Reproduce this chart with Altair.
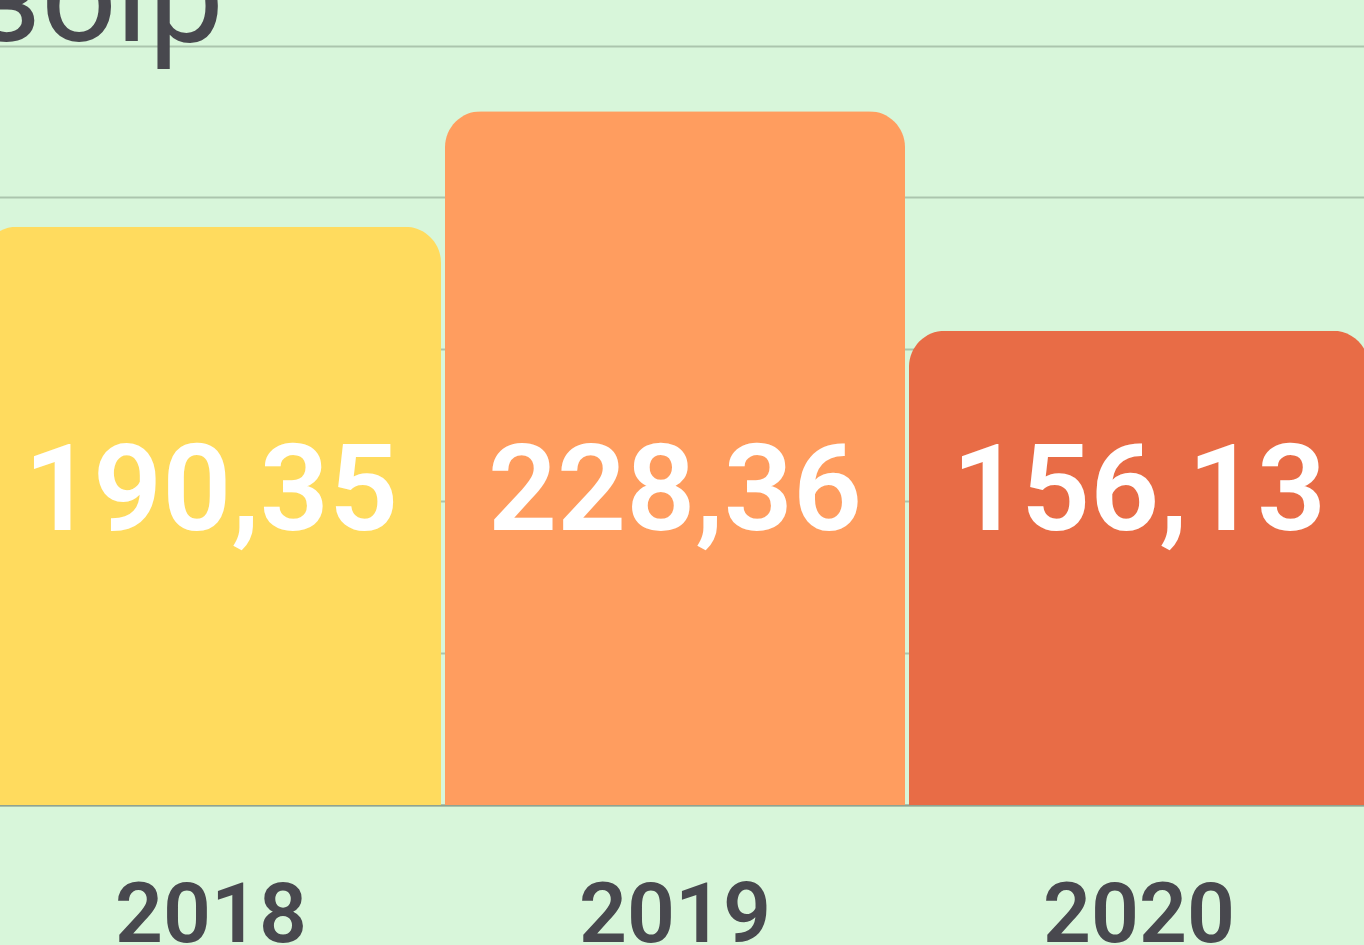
import altair as alt
import pandas as pd

# ---- data ----
years = ["2018", "2019", "2020"]
values = [190.35, 228.36, 156.13]
bar_colors = ["#ffdb5e", "#ff9d5f", "#e86c46"]
title_text = ["збір"]
grid_values = [0, 50, 100, 150, 200, 250]

labels = [f"{v:.2f}".replace(".", ",") for v in values]
df = pd.DataFrame({"year": years, "value": values, "label": labels, "color": bar_colors})
tdf = pd.DataFrame({"t": title_text})

BG = "#d8f6da"
TEXT = "#48484e"

x_enc = alt.X(
    "year:N",
    sort=years,
    scale=alt.Scale(range=[-19, 1369], paddingInner=0.0086, paddingOuter=0),
    axis=alt.Axis(
        title=None, labelAngle=0, ticks=False, tickSize=0,
        domain=True, domainColor="#8fa391", domainWidth=2,
        labelFont="Roboto", labelFontSize=84, labelFontWeight=600,
        labelColor=TEXT, labelPadding=136, labelBaseline="alphabetic",
        labelLimit=0, labelOverlap=False, grid=False,
    ),
)
y_enc = alt.Y(
    "value:Q",
    scale=alt.Scale(domain=[0, 265], nice=False),
    axis=alt.Axis(
        title=None, values=grid_values, labels=False, ticks=False,
        domain=False, grid=True, gridColor="#abc5ad", gridWidth=2,
    ),
)

bars = alt.Chart(df).mark_bar(
    cornerRadiusTopLeft=36, cornerRadiusTopRight=36
).encode(
    x=x_enc, y=y_enc, color=alt.Color("color:N", scale=None)
)

vals = alt.Chart(df).mark_text(
    font="Roboto", fontSize=121, fontWeight=600, color="white",
    align="center", baseline="alphabetic",
).encode(
    x=alt.X("year:N", sort=years),
    y=alt.value(530),
    text="label:N",
)

title = alt.Chart(tdf).mark_text(
    font="Roboto", fontSize=135, fontWeight=400, color=TEXT,
    align="right", baseline="alphabetic",
).encode(
    x=alt.value(224), y=alt.value(41), text="t:N"
)

chart = alt.layer(bars, vals, title).properties(
    width=1364, height=805,
    autosize=alt.AutoSizeParams(type="none"),
    padding={"left": 0, "top": 0, "right": 0, "bottom": 140},
    background=BG,
).configure_view(stroke=None)

chart.save(
    "out.html",
    embed_options={
        "renderer": "svg",
        "actions": False,
        "defaultStyle": "body{margin:0;background:#d8f6da;overflow:hidden}",
    },
)
